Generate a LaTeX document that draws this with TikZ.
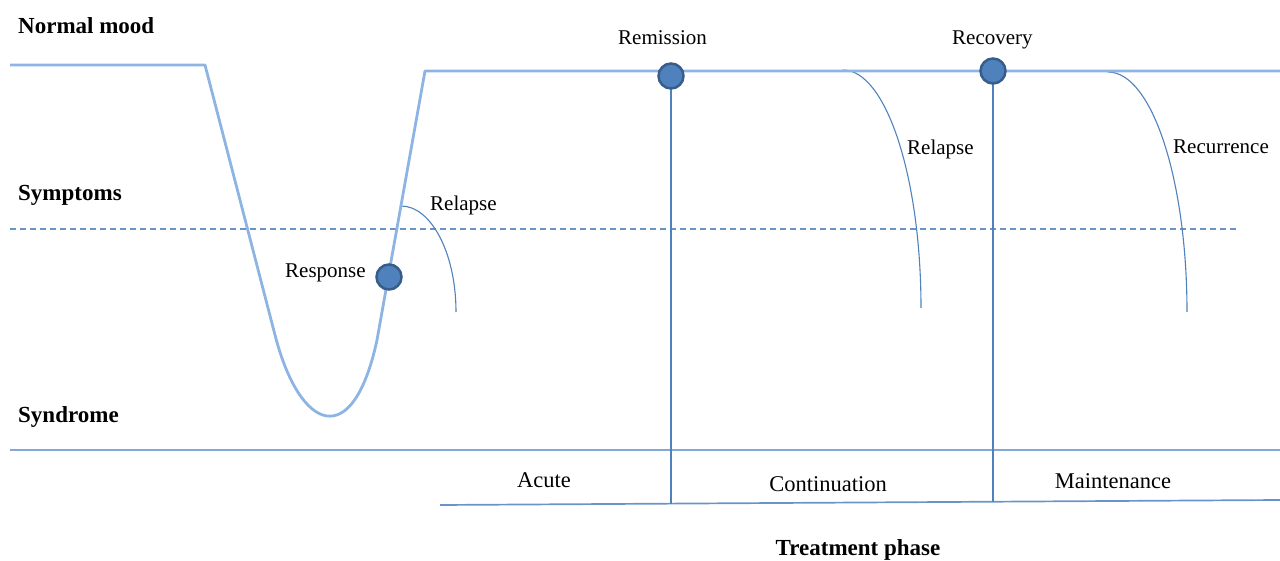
\documentclass[tikz,border=0pt]{standalone}
\usepackage{fontspec}
\setmainfont{Liberation Serif}
\definecolor{thickblue}{RGB}{141,180,226}
\definecolor{lineblue}{RGB}{132,168,212}
\definecolor{midblue}{RGB}{79,129,189}
\definecolor{darkblue}{RGB}{56,93,138}
\begin{document}
\begin{tikzpicture}[x=1pt,y=-1pt,
  mood/.style={draw=thickblue, line width=2.8pt, line join=round},
  thinline/.style={draw=midblue, line width=1.1pt},
  axisline/.style={draw=lineblue, line width=1.7pt},
  dashline/.style={draw=midblue!85, line width=1.1pt, dash pattern=on 6pt off 4pt},
  dot/.style={circle, fill=midblue, draw=darkblue, line width=2.5pt, minimum size=25pt, inner sep=0pt},
  lvl/.style={font=\fontsize{23}{27}\selectfont\bfseries, anchor=base west, inner sep=0pt},
  lab/.style={font=\fontsize{21}{25}\selectfont, anchor=base west, inner sep=0pt},
  phase/.style={font=\fontsize{22.5}{27}\selectfont, anchor=base, inner sep=0pt}]
\useasboundingbox (0,0) rectangle (1280,561);

% mood curve
\coordinate (m0) at (10,65);
\coordinate (m1) at (205,65);
\coordinate (m2) at (275,335);
\coordinate (m3) at (377,340);
\coordinate (m4) at (425,71);
\coordinate (m5) at (1280,71);

% dashed symptom threshold
\coordinate (d0) at (10,229);
\coordinate (d1) at (1237,229);
\draw[dashline] (d0) -- (d1);

% horizontal lines
\coordinate (h0) at (10,450);
\coordinate (h1) at (1280,450);
\draw[axisline] (h0) -- (h1);
\coordinate (b0) at (440,505);
\coordinate (b1) at (1280,500);
\draw[axisline, draw=midblue!85] (b0) -- (b1);

% relapse / recurrence curves
\coordinate (r1s) at (401,206);
\coordinate (r1e) at (456,312);
\draw[thinline] (r1s) .. controls (431,206) and (456,253) .. (r1e);
\coordinate (r2s) at (843,70);
\coordinate (r2e) at (921,308);
\draw[thinline] (r2s) .. controls (886,70) and (921,177) .. (r2e);
\coordinate (r3s) at (1108,72);
\coordinate (r3e) at (1187,312);
\draw[thinline] (r3s) .. controls (1152,72) and (1187,180) .. (r3e);

% main mood line
\draw[mood] (m0) -- (m1) -- (m2) .. controls (300,432) and (353,452) .. (m3) -- (m4) -- (m5);

% vertical phase separators
\coordinate (v1) at (671,504);
\coordinate (v2) at (993,502);
\draw[thinline] (671,76) -- (v1);
\draw[thinline] (993,71) -- (v2);

% dots
\node[dot] (resp) at (389,277) {};
\node[dot] (remis) at (671,76) {};
\node[dot] (recov) at (993,71) {};

% level labels
\node[lvl] (normal) at (18,34) {Normal mood};
\node[lvl] (sympt) at (18,201) {Symptoms};
\node[lvl] (syndr) at (18,422) {Syndrome};

% event labels
\node[lab] (lremis) at (618,45) {Remission};
\node[lab] (lrecov) at (952,45) {Recovery};
\node[lab] (lresp) at (285,278) {Response};
\node[lab] (lrel1) at (430,211) {Relapse};
\node[lab] (lrel2) at (907,155) {Relapse};
\node[lab] (lrecur) at (1173,154) {Recurrence};

% phases
\node[phase] (acute) at (544,487) {Acute};
\node[phase] (cont) at (828,491) {Continuation};
\node[phase] (maint) at (1113,488) {Maintenance};
\node[phase, font=\fontsize{23}{27}\selectfont\bfseries] (treat) at (858,555) {Treatment phase};
\end{tikzpicture}
\end{document}
